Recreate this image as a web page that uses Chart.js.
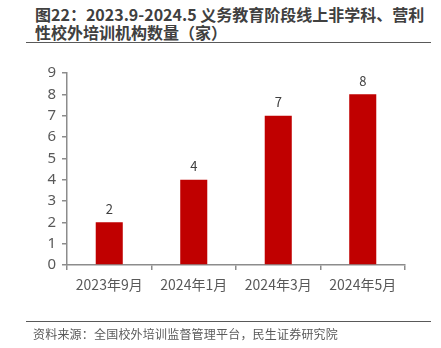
<!DOCTYPE html>
<html>
<head>
<meta charset="utf-8">
<script src="https://cdn.jsdelivr.net/npm/chart.js@4"></script>
<style>
  body { margin: 0; background: #fff; font-family: "Noto Sans CJK SC", "Noto Sans", sans-serif; }
  #wrap { position: relative; width: 441px; height: 348px; overflow: hidden; }
  #title {
    position: absolute; left: 35px; top: 5px; width: 400px;
    font-size: 16px; font-weight: bold; line-height: 18px; color: #404040;
  }
  .rule { position: absolute; left: 26px; width: 405px; height: 0; border-top: 1.5px solid #595959; }
  #note { position: absolute; left: 33px; top: 325px; font-size: 12px; letter-spacing: 0.2px; color: #595959; white-space: nowrap; }
  canvas { position: absolute; left: 0; top: 0; }
</style>
</head>
<body>
<div id="wrap">
  <div id="title">图22：2023.9-2024.5 义务教育阶段线上非学科、营利<br>性校外培训机构数量（家）</div>
  <div class="rule" style="top:42px"></div>
  <canvas id="chart" width="441" height="348"></canvas>
  <div class="rule" style="top:321px"></div>
  <div id="note">资料来源：全国校外培训监督管理平台，民生证券研究院</div>
</div>
<script>
// 机构数量（家）
const months = ['2023年9月', '2024年1月', '2024年3月', '2024年5月'];
const counts = [2, 4, 7, 8];
const yMax = 9;

const axisGray = '#8c8c8c';
const textGray = '#595959';

// 柱顶数值标签
const valueLabels = {
  id: 'valueLabels',
  afterDatasetsDraw(chart) {
    const ctx = chart.ctx;
    const meta = chart.getDatasetMeta(0);
    ctx.save();
    ctx.font = '13px "Noto Sans CJK SC", "Noto Sans", sans-serif';
    ctx.fillStyle = '#404040';
    ctx.textAlign = 'center';
    ctx.textBaseline = 'bottom';
    meta.data.forEach((bar, i) => {
      ctx.fillText(String(counts[i]), bar.x, bar.y - 7);
    });
    ctx.restore();
  }
};

new Chart(document.getElementById('chart'), {
  type: 'bar',
  data: {
    labels: months,
    datasets: [{
      data: counts,
      backgroundColor: '#c00000',
      barPercentage: 0.32,
      categoryPercentage: 1
    }]
  },
  options: {
    responsive: false,
    animation: false,
    layout: { padding: { left: 22, right: 36, top: 73, bottom: 0 } },
    plugins: { legend: { display: false }, tooltip: { enabled: false } },
    scales: {
      y: {
        min: 0, max: yMax,
        afterFit: s => { s.width = 45; },
        border: { color: axisGray, width: 1.5 },
        grid: { drawOnChartArea: false, color: axisGray, tickLength: 5, lineWidth: 1.5 },
        ticks: { stepSize: 1, color: textGray, padding: 6, font: { size: 15, family: '"Noto Sans", sans-serif' } }
      },
      x: {
        afterFit: s => { s.height = 83; },
        border: { color: axisGray, width: 1.5 },
        grid: { drawOnChartArea: false, color: axisGray, tickLength: 5, lineWidth: 1.5 },
        ticks: { color: textGray, padding: 6, maxRotation: 0, font: { size: 14, family: '"Noto Sans CJK SC", sans-serif' } }
      }
    }
  },
  plugins: [valueLabels]
});
</script>
</body>
</html>
